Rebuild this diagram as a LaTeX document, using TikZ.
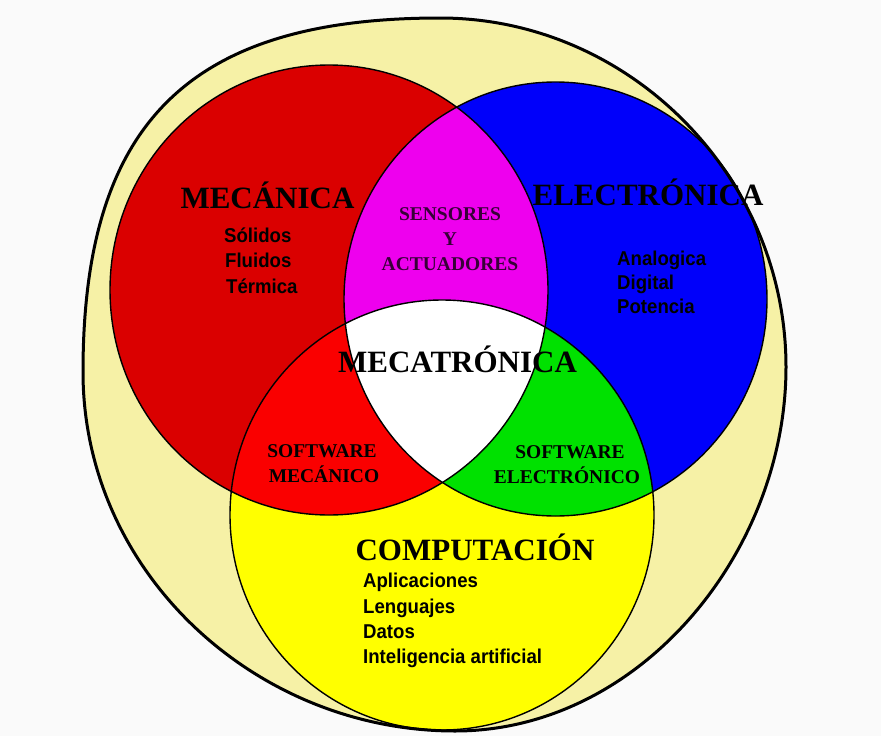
\documentclass[tikz,border=0pt]{standalone}
\usepackage{fontspec}
\newfontfamily\hdfont{Liberation Serif}
\newfontfamily\lsfont{Liberation Sans}[FakeStretch=0.93]
\definecolor{bg}{RGB}{250,250,250}
\definecolor{cream}{RGB}{246,241,166}
\definecolor{mred}{RGB}{218,0,0}
\definecolor{lred}{RGB}{250,0,0}
\definecolor{eblue}{RGB}{0,0,250}
\definecolor{mag}{RGB}{238,0,238}
\definecolor{grn}{RGB}{0,225,0}
\definecolor{yel}{RGB}{255,255,0}
\definecolor{sensc}{RGB}{55,0,55}
\begin{document}
\begin{tikzpicture}[x=1pt,y=-1pt,
  hd/.style={font=\hdfont\bfseries\fontsize{31}{31}\selectfont, inner sep=0pt, anchor=base},
  sm/.style={font=\hdfont\bfseries\fontsize{19.5}{19.5}\selectfont, inner sep=0pt, anchor=base},
  li/.style={font=\lsfont\bfseries\fontsize{20}{20}\selectfont, inner sep=0pt, anchor=base west},
  ring/.style={draw=black, line width=1.4pt},
  outer/.style={draw=black, line width=3pt, line join=round}]
\def\RED{(329,290) ellipse [x radius=219pt, y radius=225pt]}
\def\BLUE{(555.5,299) ellipse [x radius=211.5pt, y radius=217pt]}
\def\YEL{(442,515) ellipse [x radius=212pt, y radius=215pt]}
\def\OUT{(83,372) .. controls (83,122) and (190,18) .. (440,18) .. controls (630,18) and (786,177) .. (786,367) .. controls (786,552) and (640,731) .. (455,731) .. controls (255,731) and (83,572) .. (83,372) -- cycle}
\useasboundingbox (0,0) rectangle (881,736);
\fill[bg] (0,0) rectangle (881,736);
\fill[cream] \OUT;
\fill[mred] \RED;
\fill[eblue] \BLUE;
\fill[yel] \YEL;
\node[hd] (ele) at (648,205) {ELECTRÓNICA};
\begin{scope}
  \clip \RED;
  \fill[mag] \BLUE;
  \fill[lred] \YEL;
\end{scope}
\begin{scope}
  \clip \BLUE;
  \fill[grn] \YEL;
\end{scope}
\begin{scope}
  \clip \RED;
  \clip \BLUE;
  \fill[white] \YEL;
\end{scope}
\draw[ring] \RED;
\draw[ring] \BLUE;
\draw[ring] \YEL;
\draw[outer] \OUT;
% headings
\node[hd] (mec) at (267.5,208) {MECÁNICA};
\node[hd] (mecat) at (457.5,372) {MECATRÓNICA};
\node[hd] (comp) at (475,560) {COMPUTACIÓN};
% intersections
\node[sm, text=sensc] (s1) at (450,220) {SENSORES};
\node[sm, text=sensc] (s2) at (450,245) {Y};
\node[sm, text=sensc] (s3) at (450,270) {ACTUADORES};
\node[sm] (sm1) at (322,457) {SOFTWARE};
\node[sm] (sm2) at (324,482) {MECÁNICO};
\node[sm] (se1) at (570,458) {SOFTWARE};
\node[sm] (se2) at (567,483) {ELECTRÓNICO};
% lists
\node[li] (l1) at (224,242) {Sólidos};
\node[li] (l2) at (225,267) {Fluidos};
\node[li] (l3) at (226,293) {Térmica};
\node[li] (e1) at (617,265) {Analogica};
\node[li] (e2) at (617,289) {Digital};
\node[li] (e3) at (617,313) {Potencia};
\node[li] (c1) at (363,587) {Aplicaciones};
\node[li] (c2) at (363,613) {Lenguajes};
\node[li] (c3) at (363,638) {Datos};
\node[li] (c4) at (363,663) {Inteligencia artificial};
\end{tikzpicture}
\end{document}
